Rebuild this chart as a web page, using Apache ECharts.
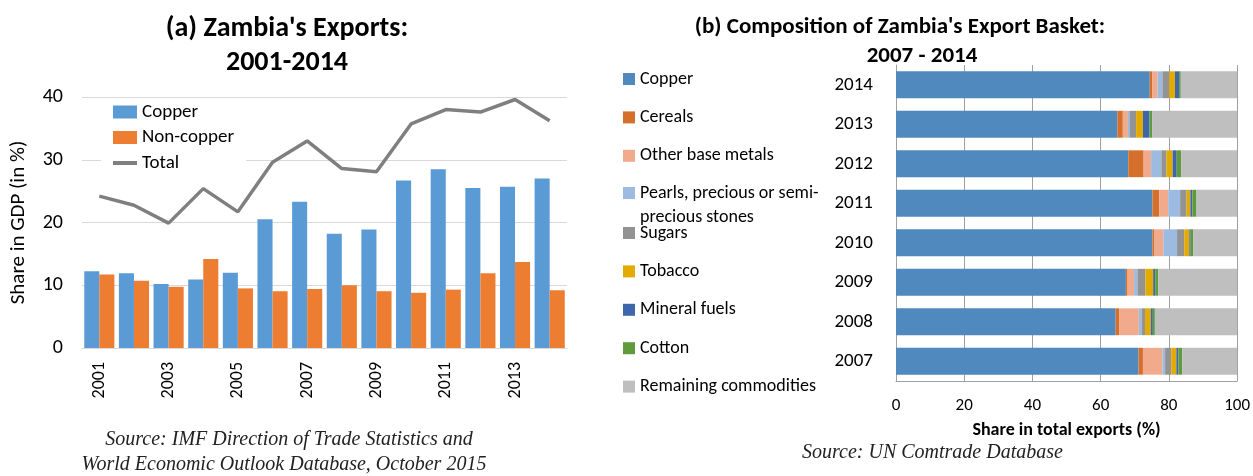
<!DOCTYPE html>
<html>
<head>
<meta charset="utf-8">
<script src="https://cdn.jsdelivr.net/npm/echarts@6/dist/echarts.min.js"></script>
<style>
  html, body { margin: 0; padding: 0; background: #ffffff; }
  #chart { width: 1253px; height: 476px; }
</style>
</head>
<body>
<div id="chart"></div>
<script>
// (a) exports as share of GDP
const years = ['2001', '2002', '2003', '2004', '2005', '2006', '2007', '2008', '2009', '2010', '2011', '2012', '2013', '2014'];
const copperGdp = [12.25, 11.9, 10.2, 10.9, 12.0, 20.5, 23.3, 18.2, 18.9, 26.7, 28.5, 25.5, 25.7, 27.0];
const nonCopperGdp = [11.7, 10.7, 9.75, 14.2, 9.5, 9.05, 9.4, 10.0, 9.05, 8.8, 9.3, 11.9, 13.7, 9.2];
const totalGdp = [24.2, 22.75, 19.9, 25.4, 21.7, 29.6, 33.0, 28.6, 28.1, 35.7, 38.0, 37.6, 39.6, 36.2];

// (b) composition of export basket, share of total exports
const basketYears = ['2007', '2008', '2009', '2010', '2011', '2012', '2013', '2014'];
const copperShare = [71.1, 64.4, 67.4, 75.2, 75.2, 68.1, 64.9, 74.4];
const cerealsShare = [1.3, 1.0, 0.5, 0.6, 2.0, 4.5, 1.6, 0.8];
const baseMetalsShare = [5.7, 5.8, 1.9, 2.6, 2.6, 2.2, 1.5, 1.5];
const pearlsShare = [0.8, 0.8, 1.0, 4.0, 3.5, 3.0, 0.6, 1.4];
const sugarsShare = [1.8, 1.0, 2.3, 2.1, 1.9, 1.5, 1.8, 2.0];
const tobaccoShare = [1.5, 1.7, 2.3, 1.5, 1.1, 1.8, 2.0, 1.7];
const mineralFuelsShare = [0.6, 0.6, 0.6, 0.4, 0.6, 1.2, 1.9, 1.2];
const cottonShare = [1.1, 0.6, 0.9, 0.8, 1.2, 1.3, 0.8, 0.5];
const remainingShare = [16.1, 24.1, 23.1, 12.8, 11.9, 16.4, 24.9, 16.5];

const basketNames = ['Copper', 'Cereals', 'Other base metals', 'Pearls, precious or semi-precious stones',
  'Sugars', 'Tobacco', 'Mineral fuels', 'Cotton', 'Remaining commodities'];
const basketColors = ['#4f89bd', '#d4702b', '#f2aa8c', '#9dbbe0', '#939393', '#e3aa00', '#3e66ad', '#5f9a3b', '#bfbfbf'];
const basketData = [copperShare, cerealsShare, baseMetalsShare, pearlsShare, sugarsShare,
  tobaccoShare, mineralFuelsShare, cottonShare, remainingShare];

const FONT = 'Carlito, Lato, sans-serif';
const SERIF = '"Liberation Serif", "DejaVu Serif", serif';

const chart = echarts.init(document.getElementById('chart'));

const basketSeries = basketNames.map(function (name, i) {
  return {
    name: name,
    type: 'bar',
    stack: 'basket',
    xAxisIndex: 1,
    yAxisIndex: 1,
    barCategoryGap: '32%',
    itemStyle: { color: basketColors[i] },
    data: basketData[i]
  };
});

const legendText = { fontFamily: FONT, fontSize: 18, lineHeight: 20, color: '#000' };
const sourceText = { fontFamily: SERIF, fontSize: 20, fontStyle: 'italic', fontWeight: 'normal', lineHeight: 22, color: '#222' };

const option = {
  backgroundColor: '#ffffff',
  animation: false,
  title: [
    { text: "(a) Zambia's Exports:", left: 287, top: 14, textAlign: 'center', padding: 0,
      textStyle: { fontFamily: FONT, fontSize: 28, fontWeight: 'bold', lineHeight: 30, color: '#000' } },
    { text: '2001-2014', left: 287, top: 48, textAlign: 'center', padding: 0,
      textStyle: { fontFamily: FONT, fontSize: 28, fontWeight: 'bold', lineHeight: 30, color: '#000' } },
    { text: "(b) Composition of Zambia's Export Basket:", left: 900, top: 14, textAlign: 'center', padding: 0,
      textStyle: { fontFamily: FONT, fontSize: 23, fontWeight: 'bold', lineHeight: 26, color: '#000' } },
    { text: '2007 - 2014', left: 922, top: 43, textAlign: 'center', padding: 0,
      textStyle: { fontFamily: FONT, fontSize: 23, fontWeight: 'bold', lineHeight: 26, color: '#000' } },
    { text: 'Source: IMF Direction of Trade Statistics and', left: 289, top: 429, textAlign: 'center', padding: 0,
      textStyle: sourceText },
    { text: 'World Economic Outlook Database, October 2015', left: 284, top: 454, textAlign: 'center', padding: 0,
      textStyle: sourceText },
    { text: 'Source: UN Comtrade Database', left: 802, top: 442, padding: 0,
      textStyle: sourceText }
  ],
  legend: [
    {
      orient: 'vertical', left: 101, top: 100, padding: [2, 12, 4, 12],
      backgroundColor: '#ffffff',
      itemWidth: 24, itemHeight: 13, itemGap: 5.5,
      textStyle: { fontFamily: FONT, fontSize: 19, lineHeight: 20, color: '#000' },
      data: [
        { name: 'Copper', icon: 'rect', itemStyle: { color: '#5b9bd5' } },
        { name: 'Non-copper', icon: 'rect', itemStyle: { color: '#ed7d31' } },
        { name: 'Total', icon: 'path://M0,0 M0,13 M0,4.5 L24,4.5 L24,8.5 L0,8.5 Z', itemStyle: { color: '#7f7f7f' } }
      ]
    },
    {
      orient: 'vertical', left: 623, top: 69, padding: 0,
      itemWidth: 12, itemHeight: 12, itemGap: 18.4, icon: 'rect',
      textStyle: legendText,
      data: [
        { name: 'Copper', itemStyle: { color: basketColors[0] } },
        { name: 'Cereals', itemStyle: { color: basketColors[1] } },
        { name: 'Other base metals', itemStyle: { color: basketColors[2] } }
      ]
    },
    {
      // first text line is a blank spacer so the icon sits on the "Pearls" line
      orient: 'vertical', left: 623, top: 157, padding: 0,
      itemWidth: 12, itemHeight: 12, icon: 'rect',
      textStyle: { fontFamily: FONT, fontSize: 18, lineHeight: 24, color: '#000' },
      formatter: function () { return ' \nPearls, precious or semi-\nprecious stones'; },
      data: [
        { name: 'Pearls, precious or semi-precious stones', itemStyle: { color: basketColors[3] } }
      ]
    },
    {
      orient: 'vertical', left: 623, top: 223, padding: 0,
      itemWidth: 12, itemHeight: 12, itemGap: 18.4, icon: 'rect',
      textStyle: legendText,
      data: [
        { name: 'Sugars', itemStyle: { color: basketColors[4] } },
        { name: 'Tobacco', itemStyle: { color: basketColors[5] } },
        { name: 'Mineral fuels', itemStyle: { color: basketColors[6] } },
        { name: 'Cotton', itemStyle: { color: basketColors[7] } },
        { name: 'Remaining commodities', itemStyle: { color: basketColors[8] } }
      ]
    }
  ],
  grid: [
    { left: 82, right: 686, top: 97, bottom: 128 },
    { left: 896, right: 15, top: 65, bottom: 95 }
  ],
  xAxis: [
    {
      type: 'category', gridIndex: 0, data: years,
      axisLine: { lineStyle: { color: '#d9d9d9', width: 1 } },
      axisTick: { show: false },
      axisLabel: { interval: 1, rotate: 90, margin: 14, fontFamily: FONT, fontSize: 18, color: '#000' }
    },
    {
      type: 'value', gridIndex: 1, min: 0, max: 100, interval: 20,
      name: 'Share in total exports (%)', nameLocation: 'middle', nameGap: 40,
      nameTextStyle: { fontFamily: FONT, fontSize: 18, fontWeight: 'bold', color: '#000' },
      axisLine: { show: true, lineStyle: { color: '#a0a0a0', width: 1 } },
      axisTick: { show: false },
      axisLabel: { margin: 16, fontFamily: FONT, fontSize: 17, color: '#000' },
      splitLine: { show: true, lineStyle: { color: '#a0a0a0', width: 1 } }
    }
  ],
  yAxis: [
    {
      type: 'value', gridIndex: 0, min: 0, max: 40, interval: 10,
      name: 'Share in GDP (in %)', nameLocation: 'middle', nameGap: 53,
      nameTextStyle: { fontFamily: FONT, fontSize: 21, color: '#000' },
      axisLine: { show: false },
      axisTick: { show: false },
      axisLabel: { margin: 19, fontFamily: FONT, fontSize: 20, color: '#000' },
      splitLine: { lineStyle: { color: '#d9d9d9', width: 1 } }
    },
    {
      type: 'category', gridIndex: 1, data: basketYears,
      axisLine: { show: true, lineStyle: { color: '#a0a0a0', width: 1 } },
      axisTick: { show: false },
      axisLabel: { margin: 23, fontFamily: FONT, fontSize: 19, color: '#000' }
    }
  ],
  series: [
    {
      name: 'Copper', type: 'bar', xAxisIndex: 0, yAxisIndex: 0,
      barGap: '0%', barCategoryGap: '13%',
      itemStyle: { color: '#5b9bd5' },
      data: copperGdp
    },
    {
      name: 'Non-copper', type: 'bar', xAxisIndex: 0, yAxisIndex: 0,
      barGap: '0%', barCategoryGap: '13%',
      itemStyle: { color: '#ed7d31' },
      data: nonCopperGdp
    },
    {
      name: 'Total', type: 'line', xAxisIndex: 0, yAxisIndex: 0,
      symbol: 'none', z: 5,
      lineStyle: { color: '#7f7f7f', width: 3.5 },
      itemStyle: { color: '#7f7f7f' },
      data: totalGdp
    }
  ].concat(basketSeries)
};

chart.setOption(option);
</script>
</body>
</html>
